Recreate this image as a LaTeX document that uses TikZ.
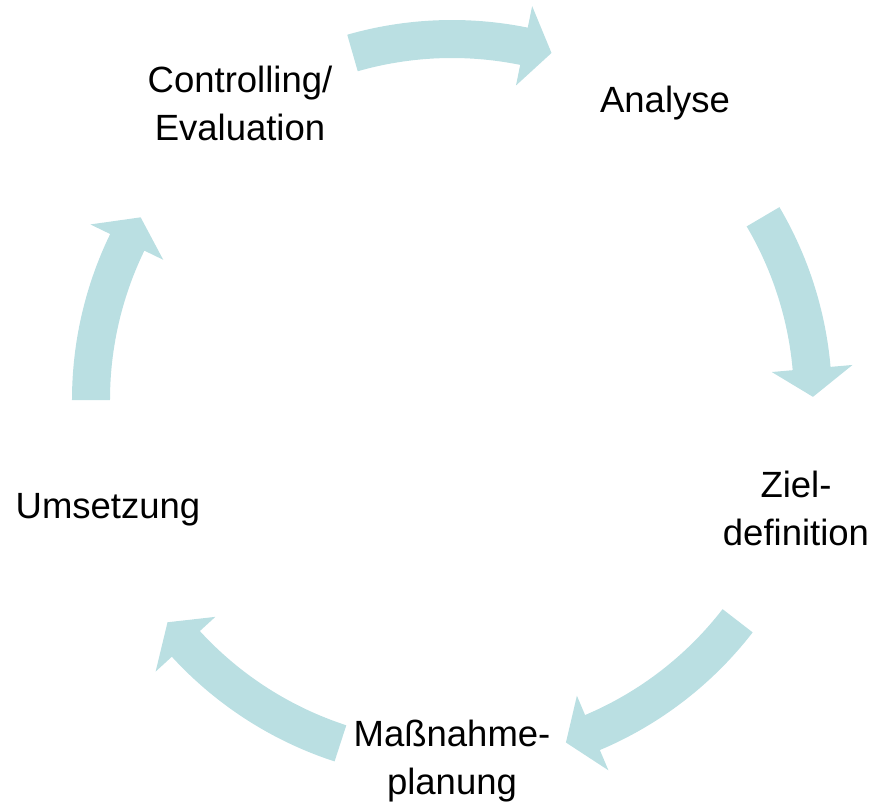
\documentclass[tikz,border=0pt]{standalone}
\usepackage{fontspec}
\setmainfont{Liberation Sans}

\def\outerR{380}
\def\innerR{342}
\def\midR{361}
\def\barbOut{402}
\def\barbIn{321}
\definecolor{arrow area}{RGB}{186,223,226}
\tikzset{
  bent/.style={fill=arrow area, draw=none},
  phase/.style={align=center, inner sep=0pt, font=\fontsize{36.5}{48}\selectfont}
  }

\begin{document}
\begin{tikzpicture}[x=1pt,y=1pt]
  \useasboundingbox (-452,-409) rectangle (422,400);

  % curved block arrows, tail angle / tip angle
  \foreach \tail/\tip in {106/74, 30.5/0.5, -37.7/-71.6, -108/-142, 180/149.6} {
    \pgfmathsetmacro{\base}{\tip+4.5}
    \fill[bent] (\tail:\outerR) arc[start angle=\tail, end angle=\base, radius=\outerR]
      -- (\base:\barbOut) -- (\tip:\midR) -- (\base:\barbIn) -- (\base:\innerR)
      arc[start angle=\base, end angle=\tail, radius=\innerR] -- cycle;
  }

  \foreach \pos/\name/\text in {{(213,297)/analyse/Analyse},
      {(344,-108)/ziel/{Ziel-\\definition}},
      {(0,-361)/massnahme/{Maßnahme-\\planung}},
      {(-344,-110)/umsetzung/Umsetzung},
      {(-212,297)/controlling/{Controlling/\\Evaluation}}} {
    \node[phase] (\name) at \pos {\text};
  }
\end{tikzpicture}
\end{document}
